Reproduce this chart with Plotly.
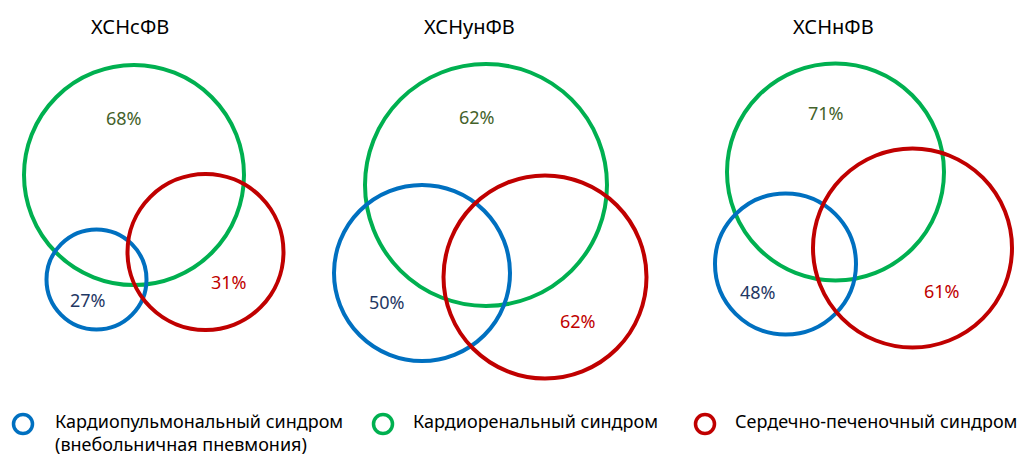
import plotly.graph_objects as go

# ---- data ----
groups = ["ХСНсФВ", "ХСНунФВ", "ХСНнФВ"]
syndromes = [
    "Кардиопульмональный синдром<br>(внебольничная пневмония)",
    "Кардиоренальный синдром",
    "Сердечно-печеночный синдром",
]
cardiopulmonary = [27, 50, 48]
cardiorenal = [68, 62, 71]
cardiohepatic = [31, 62, 61]

# ---- layout / geometry (pixel space) ----
W, H = 1022, 457
FONT = "Noto Sans"
title_x = [130, 469, 833]
title_y = 26

# circle geometry per syndrome: (cx, cy, r) for each group
geom = {
    "blue": [(96.5, 279.5, 50), (422, 273, 88), (785.5, 264, 70.5)],
    "green": [(134, 175, 110), (486, 185, 121), (835.5, 172, 108.5)],
    "red": [(205.5, 252, 78), (545, 277, 101.5), (912.5, 248, 99.5)],
}
label_pos = {
    "blue": [(88, 300), (387, 302), (758, 292)],
    "green": [(124, 118), (477, 117), (826, 113)],
    "red": [(229, 282), (578, 321), (942, 291)],
}
line_col = {"blue": "#0070C0", "green": "#00B050", "red": "#C00000"}
text_col = {"blue": "#1F3864", "green": "#44622A", "red": "#C00000"}
values = {"blue": cardiopulmonary, "green": cardiorenal, "red": cardiohepatic}

legend_marker = {"blue": (23, 424), "green": (383, 424), "red": (705, 424)}
legend_text_x = {"blue": 54, "green": 412, "red": 734}

fig = go.Figure()
shapes = []
annotations = []

for key in ["green", "blue", "red"]:
    for g in range(len(groups)):
        cx, cy, r = geom[key][g]
        shapes.append(dict(type="circle", xref="x", yref="y",
                           x0=cx - r, x1=cx + r, y0=cy - r, y1=cy + r,
                           line=dict(color=line_col[key], width=4),
                           fillcolor="rgba(0,0,0,0)", layer="above"))
        lx, ly = label_pos[key][g]
        annotations.append(dict(x=lx, y=ly, xref="x", yref="y",
                                text=f"{values[key][g]}%", showarrow=False,
                                font=dict(family=FONT, size=18, color=text_col[key]),
                                xanchor="center", yanchor="middle"))

for g, t in enumerate(groups):
    annotations.append(dict(x=title_x[g], y=title_y, xref="x", yref="y",
                            text=t, showarrow=False,
                            font=dict(family=FONT, size=20, color="#000000"),
                            xanchor="center", yanchor="middle"))

# legend
for key, name in zip(["blue", "green", "red"], syndromes):
    mx, my = legend_marker[key]
    fig.add_trace(go.Scatter(x=[mx], y=[my], mode="markers",
                             marker=dict(symbol="circle-open", size=19,
                                         color=line_col[key],
                                         line=dict(color=line_col[key], width=3.5)),
                             hoverinfo="skip", showlegend=False))
    annotations.append(dict(x=legend_text_x[key], y=407.5, xref="x", yref="y",
                            text=name, showarrow=False, align="left",
                            font=dict(family=FONT, size=18, color="#000000"),
                            xanchor="left", yanchor="top", borderpad=0))

fig.update_layout(
    width=W, height=H,
    margin=dict(l=0, r=0, t=0, b=0),
    paper_bgcolor="white", plot_bgcolor="white",
    xaxis=dict(range=[0, W], visible=False, fixedrange=True),
    yaxis=dict(range=[H, 0], visible=False, fixedrange=True),
    shapes=shapes, annotations=annotations,
    showlegend=False,
)

fig.write_html("out.html")
